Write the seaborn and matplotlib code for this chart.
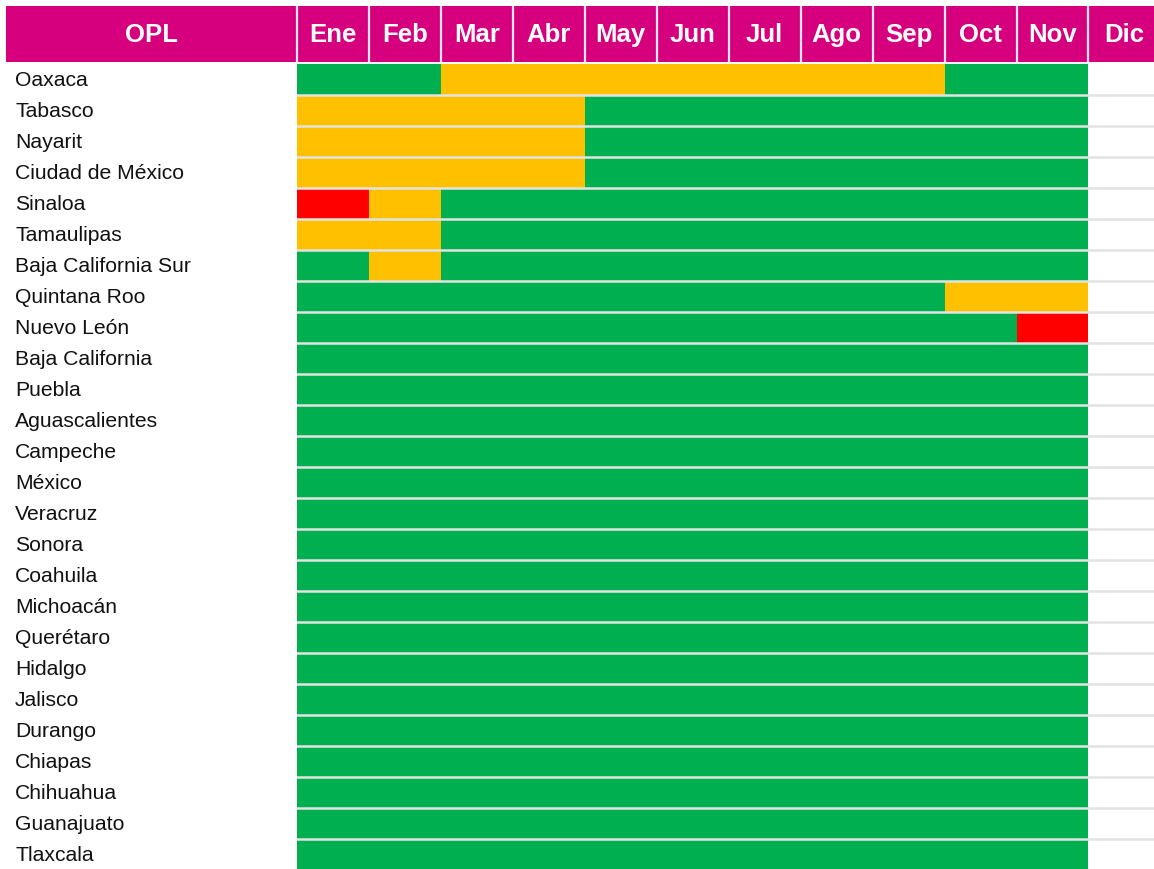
import numpy as np
import pandas as pd
import matplotlib
matplotlib.use("Agg")
import matplotlib.pyplot as plt
import matplotlib.transforms as mtransforms
from matplotlib.colors import ListedColormap
import seaborn as sns

# Months and states (OPL)
months = ['Ene', 'Feb', 'Mar', 'Abr', 'May', 'Jun', 'Jul', 'Ago', 'Sep', 'Oct', 'Nov', 'Dic']
states = ['Oaxaca', 'Tabasco', 'Nayarit', 'Ciudad de México', 'Sinaloa', 'Tamaulipas',
          'Baja California Sur', 'Quintana Roo', 'Nuevo León', 'Baja California', 'Puebla',
          'Aguascalientes', 'Campeche', 'México', 'Veracruz', 'Sonora', 'Coahuila',
          'Michoacán', 'Querétaro', 'Hidalgo', 'Jalisco', 'Durango', 'Chiapas',
          'Chihuahua', 'Guanajuato', 'Tlaxcala']

# status per month: G = verde, Y = amarillo, R = rojo, - = sin dato
status_rows = {
    'Oaxaca':              'G G Y Y Y Y Y Y Y G G -',
    'Tabasco':             'Y Y Y Y G G G G G G G -',
    'Nayarit':             'Y Y Y Y G G G G G G G -',
    'Ciudad de México':    'Y Y Y Y G G G G G G G -',
    'Sinaloa':             'R Y G G G G G G G G G -',
    'Tamaulipas':          'Y Y G G G G G G G G G -',
    'Baja California Sur': 'G Y G G G G G G G G G -',
    'Quintana Roo':        'G G G G G G G G G Y Y -',
    'Nuevo León':          'G G G G G G G G G G R -',
}
all_green = 'G G G G G G G G G G G -'

code = {'G': 0, 'Y': 1, 'R': 2, '-': np.nan}
matrix = [[code[s] for s in status_rows.get(st, all_green).split()] for st in states]
df = pd.DataFrame(matrix, index=states, columns=months)

green, yellow, red = '#00B050', '#FFC000', '#FF0000'
magenta = '#D6007F'

plt.rcParams['font.family'] = ['Liberation Sans', 'DejaVu Sans']

W, H = 1154, 870
colw = 71.95
fig = plt.figure(figsize=(W / 100, H / 100), dpi=100)

# grid of cells
ax = fig.add_axes([297 / W, -1 / H, 12 * colw / W, 806 / H])
sns.heatmap(df, cmap=ListedColormap([green, yellow, red]), vmin=-0.5, vmax=2.5,
            cbar=False, ax=ax)
ax.set_xticks([])
ax.set_yticks([])
ax.set_xlabel('')
ax.set_ylabel('')
for i in range(1, len(states)):
    ax.axhline(i, color='#e3e3e3', lw=1.8)
for sp in ax.spines.values():
    sp.set_visible(False)

# state names
trans = mtransforms.blended_transform_factory(fig.transFigure, ax.transData)
for i, st in enumerate(states):
    ax.text(15 / W, i + 0.5, st, transform=trans, ha='left', va='center',
            fontsize=15.2, color='#111111')

# header row
left = -291 / colw
hx = fig.add_axes([6 / W, (H - 63) / H, (291 + 12 * colw) / W, 56 / H])
hx.set_xlim(left, 12)
hx.set_ylim(0, 1)
hx.axvspan(left, 12, color=magenta)
for i in range(12):
    hx.axvline(i, color='#e8e8e8', lw=1.6)
    hx.text(i + 0.5, 0.5, months[i], ha='center', va='center', color='white',
            fontsize=18.5, fontweight='bold')
hx.text(left / 2, 0.5, 'OPL', ha='center', va='center', color='white',
        fontsize=18.5, fontweight='bold')
hx.set_axis_off()

fig.savefig('out.png', dpi=100)
